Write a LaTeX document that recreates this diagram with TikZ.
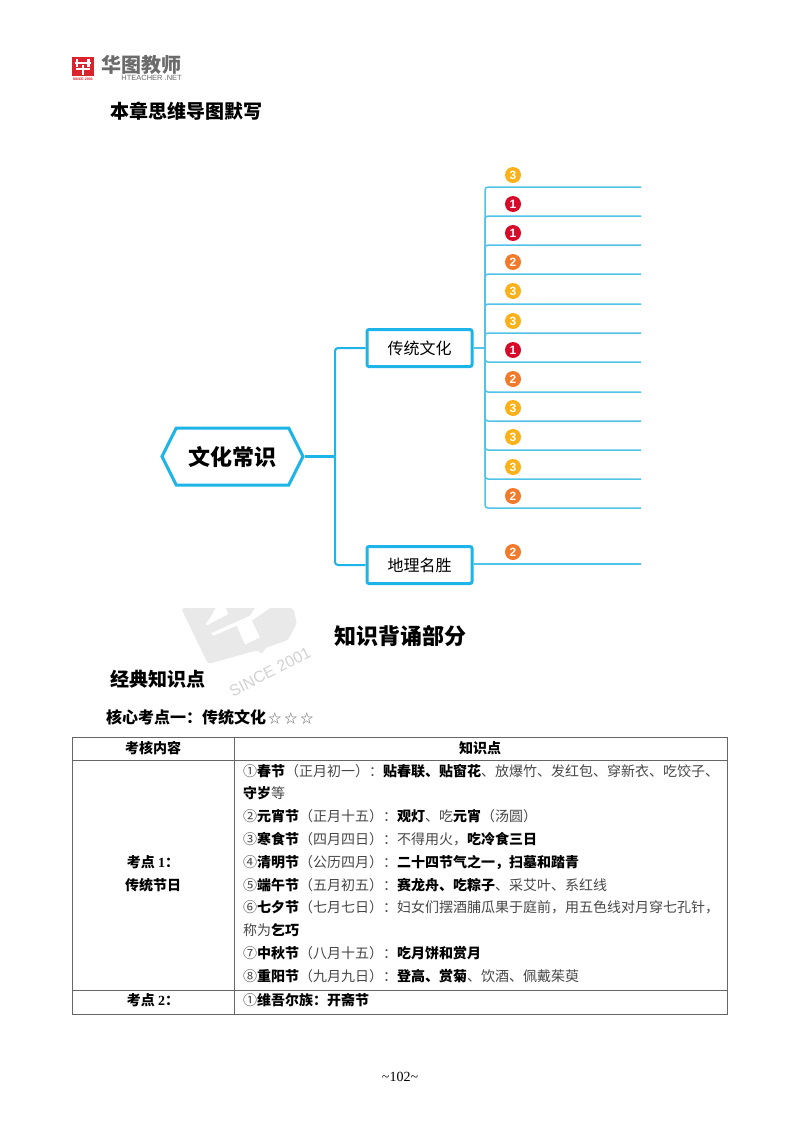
\documentclass[tikz,border=0pt]{standalone}
\usepackage{fontspec}
\setmainfont{Noto Sans CJK SC}
\newfontfamily\lat{Liberation Serif}
\newfontfamily\latsans{Liberation Sans}
\usetikzlibrary{shapes.symbols}

\definecolor{mapblue}{HTML}{1DB4E8}
\definecolor{branchblue}{HTML}{4FC3E8}
\definecolor{lvlone}{HTML}{D60B2A}
\definecolor{lvltwo}{HTML}{F37A2B}
\definecolor{lvlthree}{HTML}{FBB117}
\definecolor{logored}{HTML}{D9232E}
\definecolor{marksoft}{HTML}{E9E9E9}
\definecolor{rulegray}{HTML}{666666}

\newcommand{\tfont}[1]{\fontsize{#1}{#1}\selectfont}
\newcommand{\bd}[1]{{\color{black}\bfseries #1}}

\tikzset{
    topicbox/.style={draw=mapblue, line width=3, rounded corners=2, fill=white,
        minimum width=105, minimum height=37, inner sep=0, font=\tfont{16}},
    rootbox/.style={draw=mapblue, line width=3, fill=white, shape=signal,
        signal to=east and west, signal pointer angle=127, minimum width=141,
        minimum height=57, inner sep=0, font=\tfont{22}\bfseries},
    trunk/.style={draw=mapblue, line width=2, rounded corners=3},
    twig/.style={draw=branchblue, line width=1.5, rounded corners=3},
    dotnum/.style={circle, inner sep=0, minimum size=16, text=white, font=\latsans\bfseries\tfont{12}},
    rowtext/.style={anchor=west, inner sep=0, text=black!72, font=\tfont{14}},
    midtext/.style={inner sep=0, font=\tfont{14}\bfseries},
    headtext/.style={anchor=west, inner sep=0, font=\bfseries\tfont{19}},
    rule/.style={draw=rulegray, line width=1}
}

\begin{document}
\begin{tikzpicture}[x=1pt, y=-1pt]

    \useasboundingbox[fill=white] (0,0) rectangle (800,1132);

    % logo
    \fill[logored] (72,57) rectangle (93.5,75.5);
    \draw[white, line width=2.2] (77,59) -- (77,67.5);
    \draw[white, line width=2.2] (88.5,59) -- (88.5,67.5);
    \draw[white, line width=2] (75,63) -- (90.5,63);
    \draw[white, line width=2] (75.5,69) -- (90,69);
    \draw[white, line width=2.2] (82.8,65) -- (82.8,75);
    \node[inner sep=0, text=logored, font=\latsans\bfseries\tfont{3.6}] (logotag) at (82.8,79) {SINCE 2001};
    \node[inner sep=0, anchor=west, text=black!58, font=\bfseries\tfont{20}] (logoname) at (101,65) {华图教师};
    \node[inner sep=0, anchor=east, text=black!58, font=\latsans\tfont{7.5}] (logoweb) at (182,78) {HTEACHER .NET};

    \node[headtext] (recall) at (110,111) {本章思维导图默写};

    % watermark
    \fill[marksoft, rounded corners=3] (181,608) -- (208,664) -- (258,650) -- (262,655) -- (265,648)
        -- (288,640) -- (297,623) -- (293,608) -- cycle;
    \fill[white] (215.7,608) -- (210,618) -- (205.7,624) -- (207.7,625) -- (228.3,614) -- (225.7,608) -- cycle;
    \fill[white] (211,633.3) -- (213.3,635.7) -- (236.7,625.7) -- (245,644.7) -- (260,637.3) -- (251.7,620.7)
        -- (270,608) -- (255,608) -- (250,615.7) -- cycle;
    \node[rotate=27, inner sep=0, text=marksoft!90!black, font=\latsans\tfont{16}] (marktag) at (270,672) {SINCE 2001};

    % mind map
    \node[rootbox] (root) at (232.5,456.5) {文化常识};
    \node[topicbox] (culture) at (419.5,348) {传统文化};
    \node[topicbox] (place) at (419.5,565) {地理名胜};

    \coordinate (hub) at (335,456.5);
    \coordinate (cultureknee) at (485,348);
    \draw[trunk, line width=3] (root.east) -- (hub);
    \draw[trunk] (hub) |- (culture.west);
    \draw[trunk] (hub) |- (place.west);
    \draw[twig] (culture.east) -- (cultureknee);

    \foreach \i/\y in {1/187, 2/216, 3/245, 4/274, 5/304, 6/333, 7/362, 8/392, 9/421, 10/450, 11/479, 12/508}
    {
        \coordinate (end\i) at (641,\y);
        \draw[twig] (cultureknee) |- (end\i);
    }

    \foreach \i/\y/\n/\lvl in {1/175/3/lvlthree, 2/204/1/lvlone, 3/233/1/lvlone, 4/262/2/lvltwo,
                               5/291/3/lvlthree, 6/321/3/lvlthree, 7/350/1/lvlone, 8/379/2/lvltwo,
                               9/408/3/lvlthree, 10/437/3/lvlthree, 11/467/3/lvlthree, 12/496/2/lvltwo,
                               13/552/2/lvltwo}
        \node[dotnum, fill=\lvl] (dot\i) at (513,\y) {\n};

    \coordinate (placeend) at (641,564);
    \draw[twig] (place.east |- placeend) -- (placeend);

    % lower part of the page
    \node[inner sep=0, font=\bfseries\tfont{22}] (recite) at (400,636) {知识背诵部分};
    \node[headtext] (classic) at (110,679) {经典知识点};
    \node[inner sep=0, anchor=west, font=\tfont{16}] (topicone) at (106,717)
        {\bfseries 核心考点一：传统文化\mdseries\color{black!60}\tfont{13}\,☆\hspace{3pt}☆\hspace{3pt}☆};

    \draw[rule] (72,737) rectangle (727,1014);
    \draw[rule] (72,760) -- (727,760);
    \draw[rule] (72,990) -- (727,990);
    \draw[rule] (234,737) -- (234,1014);

    \node[midtext] (headleft) at (153,748) {考核内容};
    \node[midtext] (headright) at (480,748) {知识点};
    \node[midtext] (pointone) at (153,862) {考点 {\lat 1}：};
    \node[midtext] (festival) at (153,885) {传统节日};
    \node[midtext] (pointtwo) at (153,1000) {考点 {\lat 2}：};

    \node[rowtext] (row1) at (243,771) {①\bd{春节}（正月初一）：\bd{贴春联、贴窗花}、放爆竹、发红包、穿新衣、吃饺子、};
    \node[rowtext] (row2) at (243,793) {\bd{守岁}等};
    \node[rowtext] (row3) at (243,816) {②\bd{元宵节}（正月十五）：\bd{观灯}、吃\bd{元宵}（汤圆）};
    \node[rowtext] (row4) at (243,839) {③\bd{寒食节}（四月四日）：不得用火，\bd{吃冷食三日}};
    \node[rowtext] (row5) at (243,862) {④\bd{清明节}（公历四月）：\bd{二十四节气之一，扫墓和踏青}};
    \node[rowtext] (row6) at (243,885) {⑤\bd{端午节}（五月初五）：\bd{赛龙舟、吃粽子}、采艾叶、系红线};
    \node[rowtext] (row7) at (243,907) {⑥\bd{七夕节}（七月七日）：妇女们摆酒脯瓜果于庭前，用五色线对月穿七孔针，};
    \node[rowtext] (row8) at (243,930) {称为\bd{乞巧}};
    \node[rowtext] (row9) at (243,953) {⑦\bd{中秋节}（八月十五）：\bd{吃月饼和赏月}};
    \node[rowtext] (row10) at (243,976) {⑧\bd{重阳节}（九月九日）：\bd{登高、赏菊}、饮酒、佩戴茱萸};
    \node[rowtext] (row11) at (243,1000) {①\bd{维吾尔族：开斋节}};

    \node[inner sep=0, font=\lat\tfont{14}] (pageno) at (400,1077) {\textasciitilde 102\textasciitilde};

\end{tikzpicture}
\end{document}
